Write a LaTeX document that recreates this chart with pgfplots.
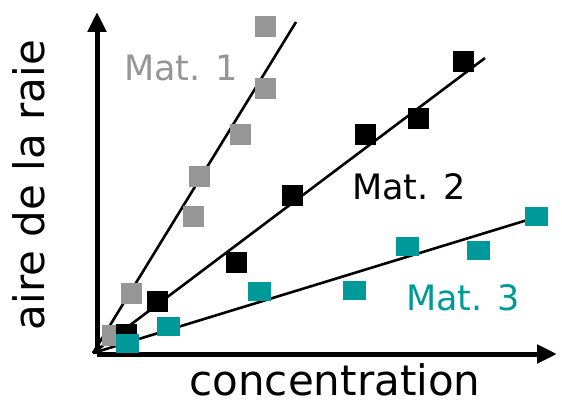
\documentclass[border=0pt]{standalone}
\usepackage{pgfplots}
\pgfplotsset{compat=1.18}
\usepackage{fontspec}
\setmainfont{DejaVu Sans}
\usetikzlibrary{arrows.meta}
\definecolor{gr}{RGB}{150,150,150}
\definecolor{tl}{RGB}{0,153,153}
\begin{document}
\begin{tikzpicture}[x=1pt,y=1pt]
\useasboundingbox (0,0) rectangle (562,400);
\begin{axis}[
  at={(97pt,46pt)}, anchor=south west,
  scale only axis, width=460pt, height=342pt,
  xmin=0, xmax=460, ymin=0, ymax=342,
  axis lines=left,
  axis line style={line width=5pt, -{Triangle[length=20pt,width=18pt]}},
  xtick=\empty, ytick=\empty,
  clip=false,
  xlabel={\fontsize{42}{50}\selectfont concentration},
  ylabel={\fontsize{42}{50}\selectfont aire de la raie},
  xlabel style={at={(axis cs:238,-41)}, anchor=base, inner sep=0pt},
  ylabel style={at={(axis cs:-68,169)}, anchor=center, rotate=0, inner sep=0pt},
]
% Mat. 1
\addplot[only marks, mark=square*, mark size=10pt, color=gr] coordinates {
(168,328) (168,266) (143,220) (102,178) (96,138) (34,61) (15,19)};
% Mat. 2
\addplot[only marks, mark=square*, mark size=10pt, color=black] coordinates {
(366,293) (321,236) (268,220) (195,159) (139,92) (60,53) (29,20)};
% Mat. 3
\addplot[only marks, mark=square*, mark size=9pt, mark options={xscale=1.22}, color=tl] coordinates {
(439,138) (381,104) (310,108) (257,64) (162,63) (71,28) (30,11)};
% fits
\addplot[black, line width=2.6pt] coordinates {(-4,1) (199,332)};
\addplot[black, line width=2.6pt] coordinates {(-4,1) (388,296)};
\addplot[black, line width=2.6pt] coordinates {(-4,1) (450,140)};
\node[gr, font=\fontsize{35}{42}\selectfont] at (axis cs:84,286) {Mat. 1};
\node[black, font=\fontsize{35}{42}\selectfont] at (axis cs:312,167) {Mat. 2};
\node[tl, font=\fontsize{35}{42}\selectfont] at (axis cs:366,56) {Mat. 3};
\end{axis}
\end{tikzpicture}
\end{document}
